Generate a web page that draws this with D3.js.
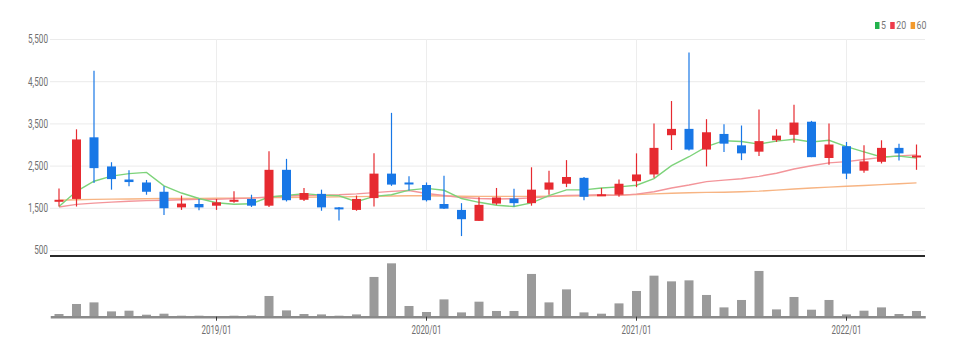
<!DOCTYPE html>
<html><head><meta charset="utf-8">
<script src="https://cdn.jsdelivr.net/npm/d3@7/dist/d3.min.js"></script>
<style>body{margin:0;background:#fff}svg{display:block}text{font-family:Roboto,"Noto Sans",sans-serif}</style>
</head><body><svg id="c" width="953" height="356"></svg>
<script>
const months = ["2018/04","2018/05","2018/06","2018/07","2018/08","2018/09","2018/10","2018/11","2018/12",
"2019/01","2019/02","2019/03","2019/04","2019/05","2019/06","2019/07","2019/08","2019/09","2019/10","2019/11","2019/12",
"2020/01","2020/02","2020/03","2020/04","2020/05","2020/06","2020/07","2020/08","2020/09","2020/10","2020/11","2020/12",
"2021/01","2021/02","2021/03","2021/04","2021/05","2021/06","2021/07","2021/08","2021/09","2021/10","2021/11","2021/12",
"2022/01","2022/02","2022/03","2022/04","2022/05"];
const openV  = [1650,1710,3170,2480,2170,2100,1880,1510,1590,1550,1650,1710,1550,2400,1690,1830,1510,1450,1730,2310,2100,2040,1590,1450,1190,1600,1720,1610,1930,2070,2210,1790,1810,2130,2290,3220,3370,2880,3250,2980,2830,3100,3230,3540,2680,2960,2380,2590,2920,2720];
const highV  = [1960,3360,4750,2580,2390,2160,2010,1790,1710,1710,1890,1810,2840,2660,1970,1930,1520,1790,2790,3750,2250,2100,2260,1610,1750,1970,1950,2460,2380,2630,2230,1970,2170,2790,3500,4030,5180,3600,3480,3450,3830,3360,3940,3560,3500,3060,2980,3100,3020,3000];
const lowV   = [1530,1530,2090,1930,2010,1810,1330,1450,1440,1450,1620,1520,1520,1650,1660,1430,1200,1430,1530,2020,1910,1650,1470,830,1190,1570,1530,1550,1810,1990,1680,1780,1760,1990,2210,2870,2860,2480,2820,2630,2730,3060,3040,2700,2520,2180,2330,2550,2620,2400];
const closeV = [1690,3120,2440,2180,2110,1880,1490,1600,1510,1630,1690,1550,2400,1680,1850,1510,1480,1710,2310,2050,2060,1680,1480,1230,1570,1745,1610,1930,2100,2230,1760,1820,2070,2290,2920,3370,2880,3290,3020,2790,3080,3210,3520,2700,3000,2310,2600,2920,2790,2740];
const volume = [27,127,143,53,60,20,30,10,10,7,10,13,207,63,27,23,10,23,397,533,107,47,173,43,150,57,57,427,143,273,43,30,133,257,410,353,363,217,93,167,457,73,197,70,167,23,60,93,27,57];
const ma5  = [1530,1890,2130,2250,2310,2340,2020,1850,1720,1620,1585,1595,1755,1790,1835,1800,1785,1645,1770,1810,1920,1960,1915,1720,1630,1560,1530,1615,1790,1925,1925,1970,1995,2035,2190,2500,2710,2950,3090,3070,3010,3080,3125,3060,3100,2950,2825,2705,2725,2680];
const ma20 = [1520,1580,1610,1635,1655,1670,1680,1690,1700,1700,1720,1730,1760,1780,1790,1800,1810,1830,1860,1890,1910,1840,1790,1745,1720,1710,1715,1735,1765,1795,1800,1810,1795,1825,1880,1970,2040,2120,2155,2190,2245,2320,2420,2495,2565,2595,2645,2695,2730,2755];
const ma60 = [1680,1690,1700,1705,1710,1715,1720,1720,1720,1725,1730,1735,1740,1745,1750,1755,1760,1765,1770,1780,1785,1785,1780,1775,1770,1770,1770,1770,1775,1780,1785,1790,1800,1815,1830,1845,1855,1865,1870,1880,1895,1920,1945,1970,1990,2010,2030,2050,2070,2090];
const xTickLabels = ["2019/01","2020/01","2021/01","2022/01"];
const yTicks = [500,1500,2500,3500,4500,5500];
const legendItems = [{name:"5",color:"#22b24c"},{name:"20",color:"#ee3b4a"},{name:"60",color:"#f39a2c"}];

const UP = "#e62a30", DOWN = "#1877e6";
const svg = d3.select("#c");
const x = d3.scaleBand().domain(months).range([50.25, 925.25]).padding(0);
const cx = m => x(m) + x.bandwidth() / 2;
const y = d3.scaleLinear().domain([500, 5500]).range([250, 39]);
const yv = d3.scaleLinear().domain([0, d3.max(volume) * 1.1]).range([316.7, 258]);

// horizontal grid
const gGrid = svg.append("g").attr("transform", "translate(50,0)")
  .call(d3.axisLeft(y).tickValues(yTicks).tickSize(-875).tickFormat(""));
gGrid.select(".domain").remove();
gGrid.selectAll("line").attr("stroke", "#ebebeb");

// vertical grid
svg.append("g").selectAll("line").data(xTickLabels).join("line")
  .attr("x1", d => cx(d)).attr("x2", d => cx(d)).attr("y1", 39).attr("y2", 250)
  .attr("stroke", "#ededed");

// y labels
const gY = svg.append("g").attr("transform", "translate(50,0)")
  .call(d3.axisLeft(y).tickValues(yTicks).tickSize(0).tickPadding(3).tickFormat(d3.format(",")));
gY.select(".domain").remove();
gY.selectAll("text").attr("fill", "#6e6e6e").attr("font-size", 12).attr("transform", "scale(0.68,1)");

// moving averages
const line = d3.line().x((d, i) => cx(months[i])).y(d => y(d));
svg.append("path").datum(ma60).attr("d", line).attr("fill", "none").attr("stroke", "#f7b483").attr("stroke-width", 1.4);
svg.append("path").datum(ma20).attr("d", line).attr("fill", "none").attr("stroke", "#f3959a").attr("stroke-width", 1.4);
svg.append("path").datum(ma5).attr("d", line).attr("fill", "none").attr("stroke", "#7dd37a").attr("stroke-width", 1.4);

// candles
const candles = months.map((m, i) => ({m, o: openV[i], h: highV[i], l: lowV[i], c: closeV[i]}));
const gC = svg.append("g").selectAll("g").data(candles).join("g");
gC.append("line").attr("x1", d => cx(d.m)).attr("x2", d => cx(d.m))
  .attr("y1", d => y(d.h)).attr("y2", d => y(d.l))
  .attr("stroke", d => d.c >= d.o ? UP : DOWN).attr("stroke-width", 1.2);
gC.append("rect").attr("x", d => cx(d.m) - 4.5).attr("width", 9)
  .attr("y", d => Math.min(y(d.o), y(d.c)))
  .attr("height", d => Math.max(2, Math.abs(y(d.o) - y(d.c))))
  .attr("fill", d => d.c >= d.o ? UP : DOWN);

// panel separator
svg.append("line").attr("x1", 50).attr("x2", 925).attr("y1", 256).attr("y2", 256)
  .attr("stroke", "#2a2a2a").attr("stroke-width", 2);

// volume bars
svg.append("g").selectAll("rect").data(volume).join("rect")
  .attr("x", (d, i) => cx(months[i]) - 4.5).attr("width", 9)
  .attr("y", d => yv(d)).attr("height", d => yv(0) - yv(d))
  .attr("fill", "#9a9a9a");

// x axis
const gX = svg.append("g").attr("transform", "translate(0,316.7)")
  .call(d3.axisBottom(x).tickValues(xTickLabels).tickSize(4).tickSizeOuter(0).tickPadding(5));
gX.select(".domain").attr("stroke", "#8a8a8a").attr("stroke-width", 2.5);
gX.selectAll(".tick line").attr("stroke", "#333");
gX.selectAll("text").attr("fill", "#6e6e6e").attr("font-size", 12).attr("transform", "scale(0.66,1)");

// legend
const lg = svg.append("g").attr("transform", "translate(875,25.5)");
let lx = 0;
legendItems.forEach(it => {
  lg.append("rect").attr("x", lx).attr("y", -3.5).attr("width", 4.5).attr("height", 7).attr("fill", it.color);
  const t = lg.append("text").attr("x", 0).attr("y", 0).attr("dy", "0.35em")
    .attr("font-size", 11).attr("fill", "#777").text(it.name)
    .attr("transform", `translate(${lx + 6},0) scale(0.8,1)`);
  lx += 6 + it.name.length * 5.2 + 4;
});
</script></body></html>
